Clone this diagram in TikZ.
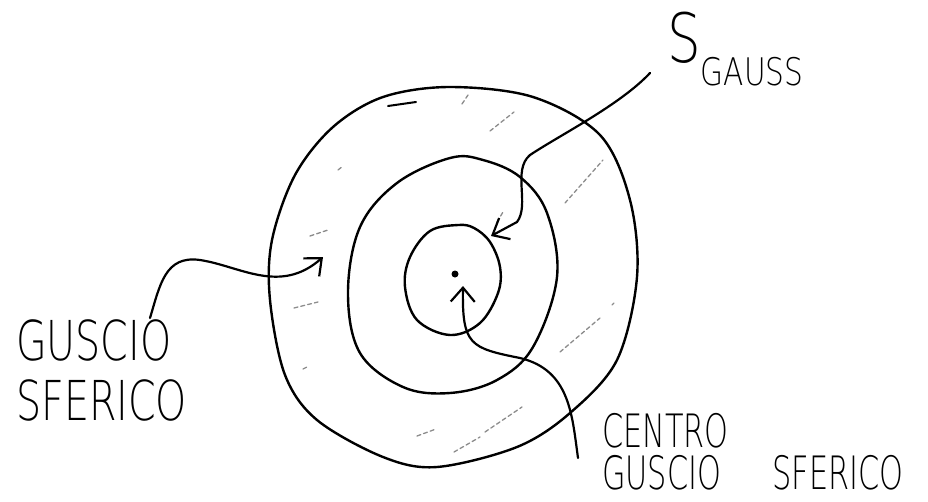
\documentclass[tikz,border=0pt]{standalone}
\usepackage{fontspec}
\newfontfamily\hand{DejaVu Sans ExtraLight}
\usetikzlibrary{arrows.meta}
\begin{document}
\begin{tikzpicture}[x=1pt,y=-1pt,
  ring/.style={line width=2.4pt, line join=round, line cap=round},
  conn/.style={line width=2.2pt, line cap=round, line join=round, -{Straight Barb[length=14pt,width=24pt,line width=2.2pt]}},
  hatch/.style={line width=1.3pt, black!45, dash pattern=on 4pt off 3pt, line cap=round},
  lbl/.style={font=\hand, inner sep=0pt, anchor=base west, align=left}]
\useasboundingbox[fill=white] (0,0) rectangle (928,501);

% outer circle
\draw[ring] plot[smooth cycle, tension=0.55] coordinates {
 (450,87) (383,97) (333,127) (295,175) (272,240) (270,300) (285,375) (317,420)
 (383,457) (437,467) (517,447) (570,413) (617,360) (637,277) (630,200)
 (600,135) (533,97)};
% middle circle
\draw[ring] plot[smooth cycle, tension=0.6] coordinates {
 (450,158) (397,183) (360,227) (348,293) (360,353) (403,387) (450,393)
 (497,380) (533,347) (557,277) (547,213) (520,177) (483,160)};
% inner circle
\draw[ring] plot[smooth cycle, tension=0.6] coordinates {
 (458,225) (430,231) (410,257) (405,287) (417,320) (450,335) (480,323)
 (498,293) (500,267) (490,242) (474,228)};
% centre dot
\node[circle, fill, inner sep=0pt, minimum size=7pt] (dot) at (455,274) {};

% hatching of the shell
\draw[black, line width=2pt, line cap=round] (388,106) -- (416,102);
\draw[hatch] (462,104) -- (468,95);
\draw[hatch] (490,131) -- (514,112);
\draw[hatch] (338,170) -- (343,166);
\draw[hatch] (310,236) -- (328,230);
\draw[hatch] (294,308) -- (318,302);
\draw[hatch] (303,369) -- (309,366);
\draw[hatch] (417,436) -- (436,429);
\draw[hatch] (454,452) -- (480,437);
\draw[hatch] (485,432) -- (522,407);
\draw[hatch] (565,203) -- (603,160);
\draw[hatch] (560,352) -- (600,318);
\draw[hatch] (612,305) -- (614,303);
\draw[hatch] (497,222) -- (503,212);

% labels
\node[lbl, xscale=0.78] (sg) at (667,62)
  {{\fontsize{68}{68}\selectfont S}\raisebox{-23pt}{\fontsize{38}{38}\selectfont GAUSS}};
\node[lbl, xscale=0.72, font=\hand\fontsize{55}{60}\selectfont] (gs) at (16,420)
  {GUSCIO\\SFERICO};
\node[lbl, xscale=0.66, font=\hand\fontsize{46}{42}\selectfont] (cg) at (602,489)
  {CENTRO\\GUSCIO\hspace{78pt}SFERICO};

% connectors
\coordinate (sgEnd) at (650,73);
\coordinate (gsEnd) at (150,318);
\coordinate (cgEnd) at (578,458);
\draw[conn] (sgEnd) .. controls (620,105) and (560,135) .. (530,155)
  .. controls (512,170) and (530,205) .. (517,222) -- (491,236);
\draw[conn] (gsEnd) .. controls (160,285) and (165,255) .. (200,260)
  .. controls (240,266) and (280,295) .. (323,257);
\draw[conn] (cgEnd) .. controls (572,415) and (570,370) .. (520,358)
  .. controls (470,348) and (462,345) .. (463,286);
\end{tikzpicture}
\end{document}
